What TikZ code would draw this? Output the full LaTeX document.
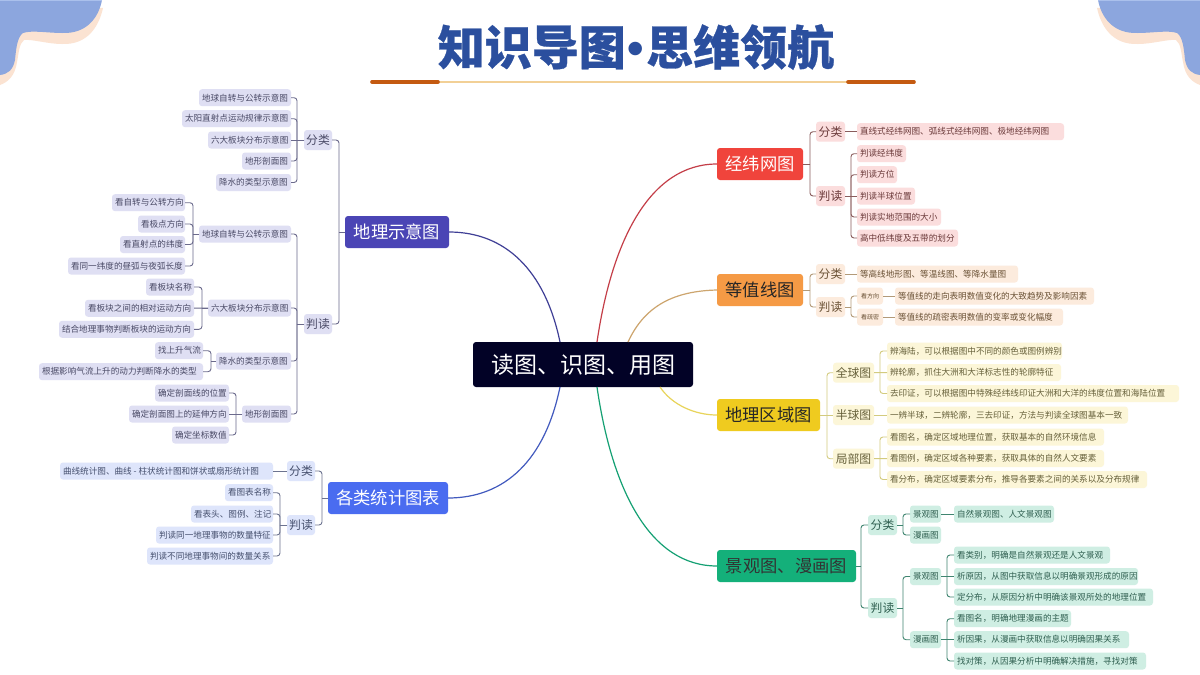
\documentclass[tikz,border=0pt]{standalone}
\usepackage{fontspec}
\setmainfont{Noto Sans CJK SC}
\newfontfamily\dotfont{Liberation Sans}
\definecolor{puF}{HTML}{DFDFF3}\definecolor{puT}{HTML}{4A4A66}\definecolor{puL}{HTML}{6B6A8C}
\definecolor{blF}{HTML}{DEE5FB}\definecolor{blT}{HTML}{46506E}\definecolor{blL}{HTML}{6C7390}
\definecolor{reF}{HTML}{FBDDDD}\definecolor{reT}{HTML}{6B3A3A}\definecolor{reL}{HTML}{8A5C5C}
\definecolor{orF}{HTML}{FCEBDD}\definecolor{orT}{HTML}{6B5236}\definecolor{orL}{HTML}{B39A78}
\definecolor{yeF}{HTML}{FCF6D8}\definecolor{yeT}{HTML}{66603A}\definecolor{yeL}{HTML}{D3CB7E}
\definecolor{grF}{HTML}{CFEEE3}\definecolor{grT}{HTML}{2F5F50}\definecolor{grL}{HTML}{3F8570}
\definecolor{peach}{HTML}{FBE3D2}
\tikzset{
 box/.style={inner sep=0pt,outer sep=0pt,rounded corners=3pt,align=center},
 leaf/.style={box,minimum height=17pt,font=\fontsize{8.6}{10}\selectfont},
 tiny/.style={box,minimum height=17pt,font=\fontsize{6}{7}\selectfont},
 mid/.style={box,minimum height=20pt,font=\fontsize{11.8}{14}\selectfont},
 top/.style={box,minimum height=32pt,font=\fontsize{17.3}{20}\selectfont},
 pu/.style={fill=puF,text=puT},bl/.style={fill=blF,text=blT},re/.style={fill=reF,text=reT},
 or/.style={fill=orF,text=orT},ye/.style={fill=yeF,text=yeT},gr/.style={fill=grF,text=grT},
 conn/.style={line width=.9pt},
 trunk/.style={line width=1.2pt},
}
% \N{name}{left}{right}{y}{style}{text}: centred text
\newcommand{\N}[6]{\pgfmathsetmacro{\myxc}{(#2+#3)/2}\pgfmathsetmacro{\mywd}{#3-#2}%
 \node[#5,minimum width=\mywd pt] (#1) at (\myxc,#4) {#6};}
% \Lf: same, text set from the left edge
\newcommand{\Lf}[6]{\pgfmathsetmacro{\myxc}{(#2+#3)/2}\pgfmathsetmacro{\mywd}{#3-#2}%
 \node[#5,minimum width=\mywd pt] (#1) at (\myxc,#4) {\makebox[\mywd pt][l]{\hspace{3pt}#6}};}
\newcommand{\LL}[4]{\draw[conn,#4] (#1.west) -- ++(-#3,0);\draw[conn,#4,rounded corners=3pt] (#1.west) ++(-#3,0) |- (#2.east);}
\newcommand{\RL}[4]{\draw[conn,#4] (#1.east) -- ++(#3,0);\draw[conn,#4,rounded corners=3pt] (#1.east) ++(#3,0) |- (#2.west);}
\begin{document}
\begin{tikzpicture}[x=1pt,y=-1pt]
\useasboundingbox (0,0) rectangle (1200,675);
\fill[white] (0,0) rectangle (1200,675);
% corner blobs
\foreach \sg/\off in {1/0,-1/1200}{
\begin{scope}[xshift=\off pt,xscale=\sg]
\fill[fill=peach] (103,8) .. controls (99,26) and (88,45) .. (62,44) .. controls (48,44) and (32,39) .. (24,40) .. controls (19,44) and (19,52) .. (17,62) .. controls (15,76) and (8,82) .. (0,85) -- (0,0) -- cycle;
\fill[fill={rgb,255:red,140;green,166;blue,222}] (102,0) .. controls (99,16) and (88,34) .. (62,33) .. controls (48,33) and (32,30) .. (23,33) .. controls (17,37) and (16,50) .. (15,60) .. controls (13,70) and (8,74) .. (0,75) -- (0,0) -- cycle;
\fill[fill={rgb,255:red,170;green,192;blue,236}] (0,0) rectangle (102,1);
\end{scope}}
% title
\node[inner sep=0pt,text={rgb,255:red,43;green,79;blue,158},font=\fontsize{47}{50}\selectfont\bfseries\addfontfeatures{FakeBold=0.6}] (title) at (636,47) {知识导图\hspace{2pt}{\dotfont\bfseries •}\hspace{2pt}思维领航};
\coordinate (ra) at (372,82);\coordinate (rb) at (914,82);\coordinate (rc) at (438,82);\coordinate (rd) at (848,82);
\draw[line width=1.8pt,color={rgb,255:red,242;green,208;blue,150}] (ra) -- (rb);
\draw[line width=3.6pt,line cap=round,color={rgb,255:red,196;green,90;blue,17}] (ra) -- (rc) (rd) -- (rb);
% centre and mains
\N{c}{473}{693}{364.5}{box,fill={rgb,255:red,2;green,2;blue,38},text=white,minimum height=45pt,font=\fontsize{23}{26}\selectfont}{读图、识图、用图}
\N{a}{345}{449}{232}{top,fill={rgb,255:red,75;green,69;blue,181},text=white}{地理示意图}
\N{b}{328}{448}{498}{top,fill={rgb,255:red,74;green,108;blue,240},text=white}{各类统计图表}
\N{e}{717}{803}{164}{top,fill={rgb,255:red,240;green,68;blue,60},text=white}{经纬网图}
\N{f}{717}{803}{290}{top,fill={rgb,255:red,245;green,154;blue,69},text=black!85}{等值线图}
\N{g}{717}{820}{415}{top,fill={rgb,255:red,239;green,203;blue,31},text=black!85}{地理区域图}
\N{h}{717}{856}{566}{top,fill={rgb,255:red,20;green,176;blue,122},text=black!80}{景观图、漫画图}
\coordinate (c1) at (560,342);\coordinate (c2) at (560,387);\coordinate (c3) at (597,342);\coordinate (c4) at (628,342);\coordinate (c6) at (597,387);
\coordinate (c5) at (660,387);
\draw[trunk,color={rgb,255:red,63;green,63;blue,150}] (c1) .. controls (545,270) and (505,232) .. (a.east);
\draw[trunk,color={rgb,255:red,66;green,90;blue,190}] (c2) .. controls (545,460) and (505,498) .. (b.east);
\draw[trunk,color={rgb,255:red,196;green,62;blue,72}] (c3) .. controls (612,240) and (650,164) .. (e.west);
\draw[trunk,color={rgb,255:red,205;green,165;blue,110}] (c4) .. controls (645,305) and (675,291) .. (f.west);
\draw[trunk,color={rgb,255:red,232;green,212;blue,90}] (c5) .. controls (672,405) and (695,415) .. (g.west);
\draw[trunk,color={rgb,255:red,20;green,160;blue,115}] (c6) .. controls (612,490) and (650,566) .. (h.west);
% ---- left: 地理示意图
\N{a1}{304}{332}{140}{mid,pu}{分类}
\N{a2}{304}{332}{324}{mid,pu}{判读}
\LL{a}{a1}{6}{puL}\LL{a}{a2}{6}{puL}
\Lf{a11}{199}{291}{97.7}{leaf,pu}{地球自转与公转示意图}
\Lf{a12}{182}{291}{118.7}{leaf,pu}{太阳直射点运动规律示意图}
\Lf{a13}{208}{291}{140}{leaf,pu}{六大板块分布示意图}
\Lf{a14}{242}{291}{161}{leaf,pu}{地形剖面图}
\Lf{a15}{216}{291}{182.5}{leaf,pu}{降水的类型示意图}
\foreach \k in {a11,a12,a14,a15}{\LL{a1}{\k}{7}{puL}}
\draw[conn,puL] (a1) -- (a13);
\Lf{a21}{199}{291}{234}{leaf,pu}{地球自转与公转示意图}
\Lf{a22}{208}{291}{308}{leaf,pu}{六大板块分布示意图}
\Lf{a23}{216}{291}{361}{leaf,pu}{降水的类型示意图}
\Lf{a24}{242}{291}{414}{leaf,pu}{地形剖面图}
\foreach \k in {a21,a22,a23,a24}{\LL{a2}{\k}{7}{puL}}
\Lf{p1}{112}{185}{202.7}{leaf,pu}{看自转与公转方向}
\Lf{p2}{138}{185}{224}{leaf,pu}{看极点方向}
\Lf{p3}{120}{185}{244.5}{leaf,pu}{看直射点的纬度}
\Lf{p4}{68}{185}{266}{leaf,pu}{看同一纬度的昼弧与夜弧长度}
\foreach \k in {p1,p2,p3,p4}{\LL{a21}{\k}{6}{puL}}
\Lf{q1}{146}{194}{287}{leaf,pu}{看板块名称}
\Lf{q2}{85}{194}{308.3}{leaf,pu}{看板块之间的相对运动方向}
\Lf{q3}{59}{194}{329.3}{leaf,pu}{结合地理事物判断板块的运动方向}
\LL{a22}{q1}{6}{puL}\LL{a22}{q3}{6}{puL}\draw[conn,puL] (a22) -- (q2);
\Lf{r1}{155}{203}{350.7}{leaf,pu}{找上升气流}
\Lf{r2}{39}{203}{371.7}{leaf,pu}{根据影响气流上升的动力判断降水的类型}
\LL{a23}{r1}{5}{puL}\LL{a23}{r2}{5}{puL}
\Lf{s1}{155}{229}{393}{leaf,pu}{确定剖面线的位置}
\Lf{s2}{129}{229}{414}{leaf,pu}{确定剖面图上的延伸方向}
\Lf{s3}{172}{229}{435}{leaf,pu}{确定坐标数值}
\LL{a24}{s1}{6}{puL}\LL{a24}{s3}{6}{puL}\draw[conn,puL] (a24) -- (s2);
% ---- left: 各类统计图表
\N{b1}{287}{315}{471}{mid,bl}{分类}
\N{b2}{287}{315}{525}{mid,bl}{判读}
\LL{b}{b1}{6}{blL}\LL{b}{b2}{6}{blL}
\Lf{b11}{60}{273}{471}{leaf,bl}{曲线统计图、曲线 - 柱状统计图和饼状或扇形统计图}
\draw[conn,blL] (b1) -- (b11);
\Lf{b21}{225}{273}{492.7}{leaf,bl}{看图表名称}
\Lf{b22}{191}{273}{514}{leaf,bl}{看表头、图例、注记}
\Lf{b23}{156}{273}{535}{leaf,bl}{判读同一地理事物的数量特征}
\Lf{b24}{147}{273}{556}{leaf,bl}{判读不同地理事物间的数量关系}
\foreach \k in {b21,b22,b23,b24}{\LL{b2}{\k}{7}{blL}}
% ---- right: 经纬网图
\N{e1}{816}{845}{131.7}{mid,re}{分类}
\N{e2}{816}{845}{196}{mid,re}{判读}
\RL{e}{e1}{7}{reL}\RL{e}{e2}{7}{reL}
\Lf{e11}{857}{1064}{131.7}{leaf,re}{直线式经纬网图、弧线式经纬网图、极地经纬网图}
\draw[conn,reL] (e1) -- (e11);
\Lf{e21}{857}{906}{153.7}{leaf,re}{判读经纬度}
\Lf{e22}{857}{897}{174.7}{leaf,re}{判读方位}
\Lf{e23}{857}{915}{196}{leaf,re}{判读半球位置}
\Lf{e24}{857}{941}{217}{leaf,re}{判读实地范围的大小}
\Lf{e25}{857}{958}{238}{leaf,re}{高中低纬度及五带的划分}
\foreach \k in {e21,e22,e24,e25}{\RL{e2}{\k}{6}{reL}}
\draw[conn,reL] (e2) -- (e23);
% ---- right: 等值线图
\N{f1}{816}{845}{274}{mid,or}{分类}
\N{f2}{816}{845}{307}{mid,or}{判读}
\RL{f}{f1}{7}{orL}\RL{f}{f2}{7}{orL}
\Lf{f11}{857}{1018}{274}{leaf,or}{等高线地形图、等温线图、等降水量图}
\draw[conn,orL] (f1) -- (f11);
\N{f21}{857}{883}{296}{tiny,or}{看方向}
\N{f22}{857}{883}{317}{tiny,or}{看疏密}
\RL{f2}{f21}{6}{orL}\RL{f2}{f22}{6}{orL}
\Lf{f31}{895}{1094}{296}{leaf,or}{等值线的走向表明数值变化的大致趋势及影响因素}
\Lf{f32}{895}{1063}{317}{leaf,or}{等值线的疏密表明数值的变率或变化幅度}
\draw[conn,orL] (f21) -- (f31);\draw[conn,orL] (f22) -- (f32);
% ---- right: 地理区域图
\N{g1}{833}{874}{372.7}{mid,ye}{全球图}
\N{g2}{833}{874}{415}{mid,ye}{半球图}
\N{g3}{833}{874}{458.7}{mid,ye}{局部图}
\RL{g}{g1}{7}{yeL}\RL{g}{g3}{7}{yeL}\draw[conn,yeL] (g) -- (g2);
\Lf{g11}{887}{1062}{351}{leaf,ye}{辨海陆，可以根据图中不同的颜色或图例辨别}
\Lf{g12}{887}{1061}{372.5}{leaf,ye}{辨轮廓，抓住大洲和大洋标志性的轮廓特征}
\Lf{g13}{887}{1179}{393.5}{leaf,ye}{去印证，可以根据图中特殊经纬线印证大洲和大洋的纬度位置和海陆位置}
\RL{g1}{g11}{6}{yeL}\RL{g1}{g13}{6}{yeL}\draw[conn,yeL] (g1) -- (g12);
\Lf{g21}{887}{1128}{415}{leaf,ye}{一辨半球，二辨轮廓，三去印证，方法与判读全球图基本一致}
\draw[conn,yeL] (g2) -- (g21);
\Lf{g31}{887}{1104}{437}{leaf,ye}{看图名，确定区域地理位置，获取基本的自然环境信息}
\Lf{g32}{887}{1104}{458.5}{leaf,ye}{看图例，确定区域各种要素，获取具体的自然人文要素}
\Lf{g33}{887}{1147}{479.5}{leaf,ye}{看分布，确定区域要素分布，推导各要素之间的关系以及分布规律}
\RL{g3}{g31}{6}{yeL}\RL{g3}{g33}{6}{yeL}\draw[conn,yeL] (g3) -- (g32);
% ---- right: 景观图、漫画图
\N{h1}{868}{897}{525}{mid,gr}{分类}
\N{h2}{868}{897}{608}{mid,gr}{判读}
\RL{h}{h1}{5}{grL}\RL{h}{h2}{5}{grL}
\Lf{h11}{910}{941}{514}{leaf,gr}{景观图}
\Lf{h12}{910}{941}{535}{leaf,gr}{漫画图}
\RL{h1}{h11}{6}{grL}\RL{h1}{h12}{6}{grL}
\Lf{h111}{954}{1054}{514}{leaf,gr}{自然景观图、人文景观图}
\draw[conn,grL] (h11) -- (h111);
\Lf{h21}{910}{941}{576.5}{leaf,gr}{景观图}
\Lf{h22}{910}{941}{639.7}{leaf,gr}{漫画图}
\RL{h2}{h21}{6}{grL}\RL{h2}{h22}{6}{grL}
\Lf{u1}{954}{1110}{555}{leaf,gr}{看类别，明确是自然景观还是人文景观}
\Lf{u2}{954}{1138}{576.5}{leaf,gr}{析原因，从图中获取信息以明确景观形成的原因}
\Lf{u3}{954}{1153}{597}{leaf,gr}{定分布，从原因分析中明确该景观所处的地理位置}
\RL{h21}{u1}{6}{grL}\RL{h21}{u3}{6}{grL}\draw[conn,grL] (h21) -- (u2);
\Lf{v1}{954}{1071}{618.7}{leaf,gr}{看图名，明确地理漫画的主题}
\Lf{v2}{954}{1129}{639.7}{leaf,gr}{析因果，从漫画中获取信息以明确因果关系}
\Lf{v3}{954}{1146}{661}{leaf,gr}{找对策，从因果分析中明确解决措施，寻找对策}
\RL{h22}{v1}{6}{grL}\RL{h22}{v3}{6}{grL}\draw[conn,grL] (h22) -- (v2);
\end{tikzpicture}
\end{document}
